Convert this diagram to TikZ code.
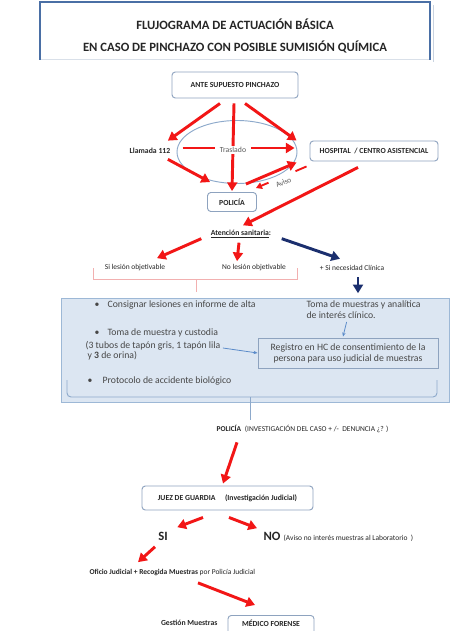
\documentclass[tikz,border=0pt]{standalone}
\usepackage{fontspec}
\setmainfont{Carlito}
\usetikzlibrary{arrows.meta,shapes.geometric}

\definecolor{arrowred}{HTML}{F21616}
\definecolor{navyblue}{HTML}{1B2F6E}
\definecolor{boxline}{HTML}{8EA3BF}
\definecolor{titleline}{HTML}{4A6FA5}
\definecolor{titleshadow}{HTML}{C9D3E0}
\definecolor{panelfill}{HTML}{DCE6F2}
\definecolor{panelline}{HTML}{9DB8D6}
\definecolor{bracepink}{HTML}{F2B0B0}
\definecolor{braceblue}{HTML}{8DA9CB}
\definecolor{thinblue}{HTML}{5B8BC9}
\definecolor{textdark}{HTML}{262626}
\definecolor{textgrey}{HTML}{595959}

\tikzset{
  stepbox/.style={draw=boxline, line width=0.7pt, rounded corners=2.5pt, fill=white,
    font=\fontsize{5.8}{7}\selectfont\bfseries},
  labelbold/.style={font=\fontsize{5.8}{7}\selectfont\bfseries},
  labeltext/.style={font=\fontsize{5.6}{7}\selectfont},
  paneltext/.style={font=\fontsize{7.3}{8.3}\selectfont, anchor=west, text=textdark!85},
  bigword/.style={font=\fontsize{9.5}{11}\selectfont\bfseries},
  redarrow/.style={draw=arrowred, line width=2.2pt, -{Triangle[length=6.5pt,width=7.5pt]}},
  navyarrow/.style={draw=navyblue, line width=2.2pt, -{Triangle[length=6.5pt,width=7.5pt]}},
  avisoarrow/.style={draw=arrowred, line width=1.4pt, dash pattern=on 9pt off 22pt on 20pt,
    -{Triangle[length=4.5pt,width=5pt]}},
  thinarrow/.style={draw=thinblue, line width=0.6pt, -{Stealth[length=3pt,width=2.5pt]}}
}

\begin{document}
\begin{tikzpicture}[x=0.75pt,y=-0.75pt, every node/.style={text=textdark, inner sep=1pt}]

% Page and clipping
\fill[white] (0,0) rectangle (460,631);
\clip (0,0) rectangle (460,631);

% Title
\node[minimum width=292.5pt, minimum height=42.75pt] (titlebox) at (235,31) {};
\draw[titleshadow, line width=1pt] ([shift={(3,3)}]titlebox.north east) -- ([shift={(3,2)}]titlebox.south east);
\draw[titleshadow!70, line width=0.8pt] (titlebox.south west) -- (titlebox.south east);
\draw[titleline, line width=1.5pt] (titlebox.south west) -- (titlebox.north west)
  -- (titlebox.north east) -- (titlebox.south east);
\node[font=\fontsize{9.5}{16.9}\selectfont\bfseries, align=center] (title) at (235,36)
  {FLUJOGRAMA DE ACTUACIÓN BÁSICA\\EN CASO DE PINCHAZO CON POSIBLE SUMISIÓN QUÍMICA};

% First steps
\node[stepbox, minimum width=94.5pt, minimum height=19.5pt] (ante) at (235,85) {ANTE SUPUESTO PINCHAZO};
\node[ellipse, draw=braceblue, line width=0.7pt, minimum width=90pt, minimum height=47.25pt] (traslado) at (237,152) {};
\node[labelbold] (llamada) at (150,151) {Llamada 112};
\node[stepbox, minimum width=96pt, minimum height=15pt] (hospital) at (374,151) {HOSPITAL \ / CENTRO ASISTENCIAL};
\node[stepbox, minimum width=36.75pt, minimum height=14.25pt] (policia) at (232,202) {POLICÍA};

% Aviso from the hospital
\draw[avisoarrow] ([shift={(-3,5)}]hospital.south west) --
  node[sloped, below=1pt, inner sep=0.5pt, text=textgrey, font=\fontsize{5.6}{7}\selectfont] {Aviso}
  ([shift={(-1,-4)}]policia.north east);

\begin{scope}[redarrow]
% Ante supuesto pinchazo
\draw ([shift={(-15,5)}]ante.south) -- ([shift={(-4,-6)}]llamada.north east);
\draw ([shift={(-1,5)}]ante.south) -- ([shift={(0,-1)}]policia.north);
\draw ([shift={(10,5)}]ante.south) -- ([shift={(-13,0)}]hospital.north west);
% Traslado and Llamada 112
\draw ([shift={(6,-4)}]traslado.west) -- ([shift={(-15,-3)}]hospital.west);
\draw ([shift={(-4,4)}]llamada.south east) -- ([shift={(3,-10)}]policia.north west);
\draw ([shift={(-11,-8)}]policia.north east) -- ([shift={(-13,1)}]hospital.south west);
\end{scope}
\node[fill=white, text=textgrey, font=\fontsize{5.8}{7}\selectfont, inner xsep=4pt, inner ysep=1pt] (trasladotxt) at (233,150) {Traslado};

% Atencion sanitaria
\node[labelbold] (atencion) at (241,234) {\underline{Atención sanitaria}:};
\draw[redarrow] ([shift={(-16,6)}]hospital.south) -- ([shift={(2,-3)}]atencion.north);
\node[labeltext] (silesion) at (135,268) {Si lesión objetivable};
\node[labeltext] (nolesion) at (254,268) {No lesión objetivable};
\node[labeltext] (necesidad) at (352,268) {+ Si necesidad Clínica};
\draw[redarrow] ([shift={(-8,-1)}]atencion.south west) -- ([shift={(22,-5)}]silesion.north);
\draw[redarrow] ([shift={(-2,3)}]atencion.south) -- ([shift={(-17,-2)}]nolesion.north);
\draw[navyarrow] ([shift={(9,-1)}]atencion.south east) -- ([shift={(-12,-5)}]necesidad.north);
\draw[navyarrow] ([shift={(6,5)}]necesidad.south) -- ++(0,16);

% Pink bracket
\draw[bracepink, line width=0.7pt] (93,268) -- (93,279) -- (297,279) -- (297,268);
\draw[bracepink, line width=0.7pt] (196,279) -- (196,292);

% Panel of clinical actions
\node[draw=panelline, fill=panelfill, line width=0.7pt, minimum width=291pt, minimum height=78pt] (panel) at (255,350) {};
\node[paneltext] (bul1) at (93,305) {\textbullet};
\node[paneltext] (consignar) at (106,305) {Consignar lesiones en informe de alta};
\node[paneltext, align=left, font=\fontsize{7.3}{8.25}\selectfont] (analitica) at (305,309.5) {Toma de muestras y analítica\\de interés clínico.};
\node[paneltext] (bul2) at (93,333) {\textbullet};
\node[paneltext] (custodia) at (106,333) {Toma de muestra y custodia};
\node[paneltext] (tubos) at (84,346) {(3 tubos de tapón gris, 1 tapón lila};
\node[paneltext] (orina) at (86,356) {y \textbf{3} de orina)};
\node[paneltext] (bul3) at (86,381) {\textbullet};
\node[paneltext] (protocolo) at (101,381) {Protocolo de accidente biológico};
\node[draw=boxline, fill=panelfill, line width=0.7pt, minimum width=135pt, minimum height=22.5pt,
  align=center, font=\fontsize{7.3}{8.25}\selectfont, text=textdark!85] (registro) at (348,353)
  {Registro en HC de consentimiento de la\\persona para uso judicial de muestras};
\draw[thinarrow] ([shift={(1,2)}]tubos.east) -- (registro.west);
\draw[thinarrow] ([shift={(-17,2)}]analitica.south) -- ([shift={(-5,-1)}]registro.north);

% Blue brace
\draw[braceblue, line width=0.7pt, rounded corners=3pt] (67,380) -- (67,397) -- (437,397) -- (437,380);
\draw[braceblue, line width=0.7pt] (250,397) -- (250,420);

% Police and judge
\node[labeltext, anchor=west] (investigacion) at (215,429)
  {\textbf{POLICÍA}\enspace (INVESTIGACIÓN DEL CASO + /- \ DENUNCIA ¿? )};
\node[stepbox, minimum width=128.25pt, minimum height=18pt] (juez) at (227.5,498)
  {JUEZ DE GUARDIA \quad (Investigación Judicial)};
\draw[redarrow] ([shift={(22,8)}]investigacion.south west) -- ([shift={(-4.5,-2)}]juez.north);

\node[bigword] (si) at (163,536) {SI};
\node[bigword, anchor=west] (no) at (262,536) {NO};
\node[labeltext, anchor=base west] (noaviso) at (no.base east) {(Aviso no interés muestras al Laboratorio \ )};
\draw[redarrow] ([shift={(-24.5,7)}]juez.south) -- ([shift={(8,-3)}]si.north east);
\draw[redarrow] ([shift={(1.5,7)}]juez.south) -- ([shift={(-5,-2)}]no.north west);

% Samples
\node[labeltext, anchor=west] (oficio) at (88,572)
  {\textbf{Oficio Judicial + Recogida Muestras} por Policía Judicial};
\draw[redarrow] ([shift={(-8,5)}]si.south) -- ([shift={(50,-5)}]oficio.north west);
\node[labelbold, anchor=east] (gestion) at (219,623) {Gestión Muestras};
\node[stepbox, anchor=north, minimum width=64.5pt, text height=4pt, text depth=12pt, inner ysep=3.9pt] (forense) at (271,615) {MÉDICO FORENSE};
\draw[redarrow] ([shift={(110,6)}]oficio.south west) -- ([shift={(-16,-10)}]forense.north);

\end{tikzpicture}
\end{document}
